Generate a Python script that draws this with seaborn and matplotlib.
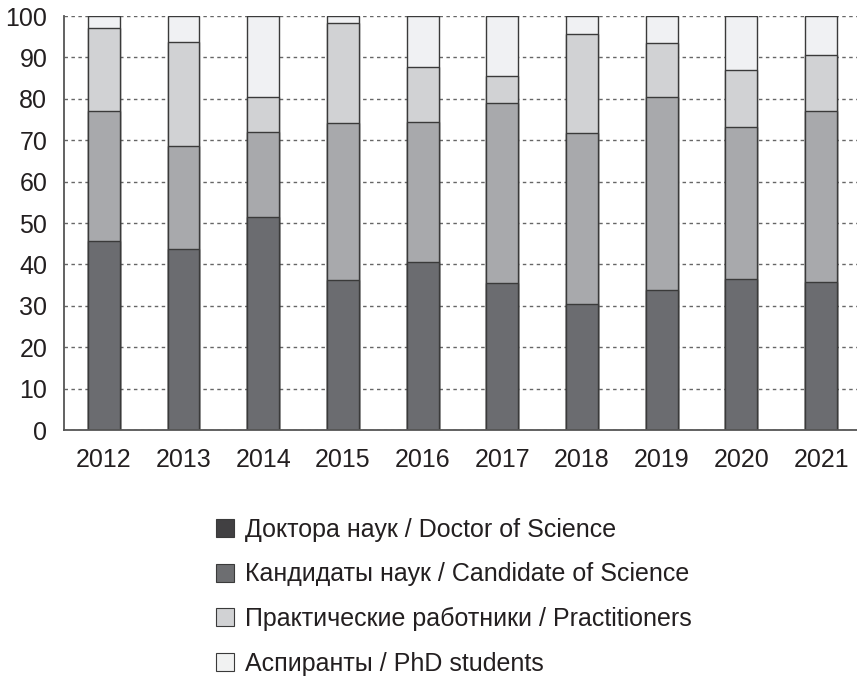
import numpy as np
import pandas as pd
import matplotlib
matplotlib.use("Agg")
import matplotlib.pyplot as plt
from matplotlib.patches import Patch
import seaborn as sns

# данные (доли, %)
years = ["2012", "2013", "2014", "2015", "2016", "2017", "2018", "2019", "2020", "2021"]
doctors = [45.7, 43.7, 51.4, 36.2, 40.6, 35.6, 30.4, 33.7, 36.5, 35.7]
candidates = [31.4, 25.0, 20.7, 37.9, 33.7, 43.4, 41.3, 46.7, 36.6, 41.3]
practitioners = [19.9, 24.9, 8.4, 24.1, 13.5, 6.4, 24.0, 13.0, 13.9, 13.7]
phd_students = [3.0, 6.4, 19.5, 1.8, 12.2, 14.6, 4.3, 6.6, 13.0, 9.3]

series_labels = [
    "Доктора наук / Doctor of Science",
    "Кандидаты наук / Candidate of Science",
    "Практические работники / Practitioners",
    "Аспиранты / PhD students",
]
bar_colors = ["#6b6c70", "#a8a9ac", "#d1d2d4", "#f0f1f3"]
legend_colors = ["#414042", "#6d6e71", "#d1d2d4", "#f1f2f2"]

sns.set_theme(style="white")
plt.rcParams["font.family"] = ["Liberation Sans", "DejaVu Sans"]
text_color = "#231f20"

# накопленные суммы для стековых столбцов
stack = np.array([doctors, candidates, practitioners, phd_students])
cum = np.cumsum(stack, axis=0)
df = pd.DataFrame({"year": years})
for i in range(4):
    df[f"cum{i}"] = cum[i]

fig = plt.figure(figsize=(8.57, 6.78), dpi=100)
ax = fig.add_axes([64 / 857, (678 - 430) / 678, (857 - 64) / 857, 414 / 678])

# рисуем от верхнего слоя к нижнему, чтобы получить стек
for i in range(3, -1, -1):
    sns.barplot(data=df, x="year", y=f"cum{i}", color=bar_colors[i], width=0.4,
                edgecolor="#3a3a3a", linewidth=1.0, saturation=1, ax=ax, zorder=2)

ax.set_xlim(-0.5, 9.45)
ax.set_ylim(0, 100)
ax.set_yticks(range(0, 101, 10))
ax.set_xlabel("")
ax.set_ylabel("")

ax.yaxis.grid(True, linestyle=(0, (2.5, 2.5)), color="#666666", linewidth=1.0, zorder=0)
ax.set_axisbelow(True)

for s in ["top", "right"]:
    ax.spines[s].set_visible(False)
for s in ["left", "bottom"]:
    ax.spines[s].set_color("#555555")
    ax.spines[s].set_linewidth(1.3)

ax.tick_params(axis="y", length=0, labelsize=18, labelcolor=text_color, pad=12)
ax.tick_params(axis="x", which="major", length=0, labelsize=18, labelcolor=text_color, pad=13)
ax.set_xticks(np.arange(-0.5, 9.5, 1.0), minor=True)
ax.tick_params(axis="x", which="minor", direction="out", length=5, width=1.3, color="#555555")

handles = [Patch(facecolor=legend_colors[i], edgecolor="#3a3a3a", linewidth=0.8) for i in range(4)]
fig.legend(handles, series_labels, loc="upper left", bbox_to_anchor=(216 / 857, 1 - 518 / 678),
           frameon=False, fontsize=18, labelcolor=text_color, handlelength=0.72, handleheight=0.72,
           handletextpad=0.45, labelspacing=0.82, borderpad=0, borderaxespad=0)

plt.savefig("out.png", dpi=100)
plt.close()
